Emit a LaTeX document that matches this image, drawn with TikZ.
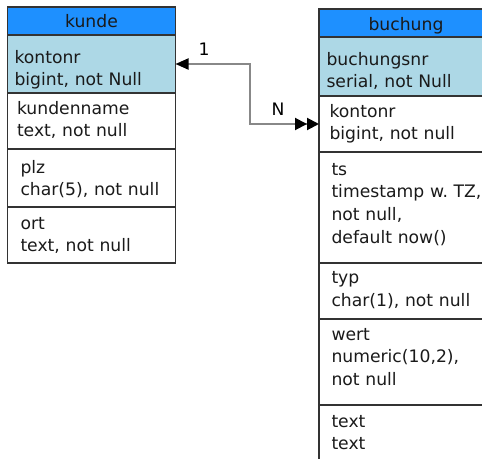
\documentclass[tikz,border=0pt]{standalone}
\usepackage{fontspec}
\setmainfont{DejaVu Sans}
\usetikzlibrary{positioning,arrows.meta}

\definecolor{kopfblau}{HTML}{1E90FF}
\definecolor{hellblau}{HTML}{ADD8E6}
\definecolor{rahmen}{HTML}{333333}
\definecolor{schrift}{HTML}{1A1A1A}
\definecolor{linie}{HTML}{888888}

\tikzset{
  feld/.style={draw=rahmen, line width=1.1pt, inner sep=0pt, outer sep=0pt,
    align=left, text=schrift},
  kopf/.style={feld, fill=kopfblau, align=center, text height=20pt, text depth=8pt},
  pk/.style={fill=hellblau},
  zeile/.style n args={3}{text width=#1pt, text height=#2pt, text depth=#3pt},
  beziehung/.style={draw=linie, line width=2pt},
}

\begin{document}
\begin{tikzpicture}[x=1pt, y=1pt, font=\fontsize{17.2}{22.7}\selectfont]
    \useasboundingbox (0,0) rectangle (482,-458);
    \clip (0,0) rectangle (482,-458);

    % 表 kunde
    \begin{scope}[every node/.append style={minimum width=168pt}]
        \node[kopf, anchor=north west] (kunde) at (7.5,-7) {kunde};
        \node[feld, pk, zeile={154}{28}{30}, below=0pt of kunde] (kpk) {kontonr\\bigint, not Null};
        \node[feld, zeile={149}{21}{35}, below=0pt of kpk] (kname) {kundenname\\text, not null};
        \node[feld, zeile={142}{24}{34}, below=0pt of kname] (kplz) {plz\\char(5), not null};
        \node[feld, zeile={142}{22}{34}, below=0pt of kplz] (kort) {ort\\text, not null};
    \end{scope}

    % 表 buchung
    \begin{scope}[every node/.append style={minimum width=174pt}]
        \node[kopf, text height=21pt, text depth=7pt, anchor=north west] (buchung) at (319,-9) {buchung};
        \node[feld, pk, zeile={159}{28}{31}, below=0pt of buchung] (bpk) {buchungsnr\\serial, not Null};
        \node[feld, zeile={153}{21}{35}, below=0pt of bpk] (bkonto) {kontonr\\bigint, not null};
        \node[feld, zeile={149}{23}{88}, below=0pt of bkonto] (bts) {ts\\timestamp~w.~TZ,\\not null,\\default now()};
        \node[feld, zeile={149}{20.5}{35.5}, below=0pt of bts] (btyp) {typ\\char(1), not null};
        \node[feld, zeile={149}{21}{65}, below=0pt of btyp] (bwert) {wert\\numeric(10,2),\\not null};
        \node[feld, zeile={149}{22}{34}, below=0pt of bwert] (btext) {text\\text};
    \end{scope}

    % 1:N 关系
    \coordinate (knick) at (249.5,-90);
    \draw[beziehung, {Triangle[length=13pt, width=11pt, color=black]}-{Triangle[length=12pt, width=12pt, color=black] Triangle[length=12pt, width=12pt, color=black]}]
        (kpk.east) -| (knick) |- (bkonto.west);
    \node (eins) at (204,-49) {1};
    \node (viele) at (278,-109) {N};
\end{tikzpicture}
\end{document}
